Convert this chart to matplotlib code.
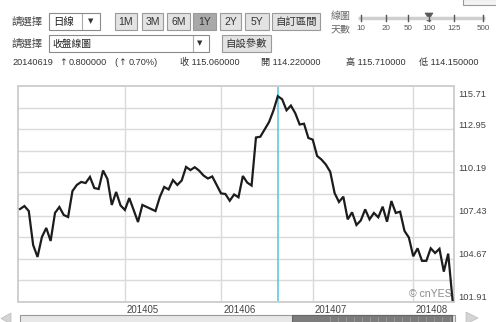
import matplotlib
matplotlib.use('Agg')
import matplotlib.pyplot as plt
import matplotlib.patches as mp
import numpy as np
import pandas as pd

# ---------------- data ----------------
dates = pd.bdate_range('2014-03-28', '2014-08-14')
close = [107.85, 108.04, 107.72, 105.55, 104.79, 106.06, 106.64, 105.81, 107.60, 107.98,
         107.47, 107.34, 109.00, 109.39, 109.58, 109.51, 109.90, 109.19, 109.13, 110.31,
         109.77, 108.11, 108.94, 108.08, 107.79, 108.55, 107.79, 107.02, 108.11, 107.98,
         107.85, 107.72, 108.62, 109.26, 109.10, 109.70, 109.39, 109.67, 110.54, 110.34,
         110.52, 110.30, 109.99, 109.80, 109.93, 109.39, 108.85, 108.81, 108.38, 108.78,
         108.60, 109.96, 109.54, 109.35, 112.42, 112.47, 112.94, 113.41, 114.14, 115.06,
         114.86, 114.16, 114.46, 113.97, 113.25, 113.30, 112.39, 112.28, 111.24, 111.01,
         110.69, 110.23, 108.87, 108.30, 108.64, 107.19, 107.64, 106.83, 107.12, 107.83,
         107.19, 107.60, 107.32, 108.00, 107.04, 108.36, 107.60, 107.68, 106.45, 106.03,
         104.83, 105.34, 104.54, 104.54, 105.34, 105.04, 105.31, 103.85, 105.00, 102.04]
ytick_labels = ['101.91', '104.67', '107.43', '110.19', '112.95', '115.71']
month_labels = ['201405', '201406', '201407', '201408']
selected_date = '2014-06-19'

header_date = '20140619'
header_change = '0.800000'
header_pct = '0.70%'
header_close = '115.060000'
header_open = '114.220000'
header_high = '115.710000'
header_low = '114.150000'

period_buttons = ['1M', '3M', '6M', '1Y', '2Y', '5Y', '自訂區間']
active_button = '1Y'
slider_labels = ['10', '20', '50', '100', '125', '500']
slider_active = '100'

# ---------------- figure ----------------
W, H = 496, 322
fig = plt.figure(figsize=(W / 100, H / 100), dpi=100)
fig.patch.set_facecolor('white')

NUMF = ['Liberation Sans', 'Noto Sans CJK TC', 'DejaVu Sans']
CJKF = ['Noto Sans CJK TC', 'DejaVu Sans']

ax = fig.add_axes([18.3 / W, 20 / H, 436 / W, 216 / H])
x = np.arange(len(dates))
y_min, y_max = float(ytick_labels[0]), float(ytick_labels[-1])
ax.set_xlim(-0.4, len(dates) - 0.6)
ax.set_ylim(y_min, y_max)

# horizontal grid
for v in np.linspace(y_min, y_max, 11)[1:-1]:
    ax.axhline(v, color='#dadada', lw=1.0, zorder=1)

# month grid + labels
for i in range(1, len(dates)):
    lab = dates[i].strftime('%Y%m')
    if dates[i].month != dates[i - 1].month and lab in month_labels:
        ax.axvline(x[i], color='#dadada', lw=1.0, zorder=1)
        ax.annotate(lab, xy=(x[i], y_min), xycoords='data', xytext=(1.5, -5.6),
                    textcoords='offset points', ha='left', va='center',
                    fontsize=6.9, color='#444444', family=NUMF, annotation_clip=False)

# selected date line
sel = list(dates.strftime('%Y-%m-%d')).index(selected_date)
ax.axvline(x[sel], color='#55c4dc', lw=1.1, zorder=2)

ax.plot(x, close, color='#1c1c1c', lw=1.6, zorder=3, solid_joinstyle='miter')

# y labels on the right
for i, lab in enumerate(ytick_labels):
    v = float(lab)
    dy = 2.9 if i < len(ytick_labels) - 1 else -6.3
    ax.annotate(lab, xy=(1, v), xycoords=('axes fraction', 'data'), xytext=(2.8, dy),
                textcoords='offset points', ha='left', va='center', fontsize=6.7,
                color='#444444', family=NUMF, annotation_clip=False)

ax.set_xticks([])
ax.set_yticks([])
for s in ax.spines.values():
    s.set_color('#cfcfcf')
    s.set_linewidth(1.4)

ax.text(0.995, 0.037, '© cnYES', transform=ax.transAxes, ha='right', va='center',
        fontsize=7.6, color='#8a8a8a', family=NUMF, zorder=4)

# ---------------- UI overlay (pixel coords) ----------------
ov = fig.add_axes([0, 0, 1, 1])
ov.set_xlim(0, W)
ov.set_ylim(H, 0)
ov.axis('off')
ov.patch.set_alpha(0)

def txt(xp, yp, s, size=7.5, ha='left', color='#444444', fam=CJKF):
    ov.text(xp, yp, s, fontsize=size, ha=ha, va='center', color=color, family=fam)

# row 1
txt(12, 21.5, '請選擇')
ov.add_patch(mp.Rectangle((49, 13), 51, 17, fc='white', ec='#8a8a8a', lw=0.8))
txt(53, 21.5, '日線', color='#222222')
ov.plot([82, 82], [14, 29], color='#aaaaaa', lw=0.8)
txt(91, 21.5, '▼', size=5, ha='center', color='#333333', fam=['DejaVu Sans'])

btn_x = [(115, 137), (142, 163), (167, 190), (193, 216), (220, 241), (245, 269), (272, 320)]
for lab, (x0, x1) in zip(period_buttons, btn_x):
    fc = '#a9a9a9' if lab == active_button else '#e3e3e3'
    ov.add_patch(mp.Rectangle((x0, 13), x1 - x0, 17, fc=fc, ec='#9a9a9a', lw=0.8))
    txt((x0 + x1) / 2, 21.5, lab, size=7.5, ha='center', color='#333333',
        fam=NUMF if lab != '自訂區間' else CJKF)

txt(331, 15.5, '線圖', size=7.2, color='#666666')
txt(331, 29.5, '天數', size=7.2, color='#666666')
ov.plot([358, 485], [18, 18], color='#cfcfcf', lw=2.5, solid_capstyle='butt')
slider_x = [361, 386, 408, 429, 454, 483]
for lab, sx in zip(slider_labels, slider_x):
    ov.plot([sx, sx], [15, 21], color='#555555', lw=1)
    txt(sx, 28.5, lab, size=5.8, ha='center', color='#555555', fam=NUMF)
    if lab == slider_active:
        ov.add_patch(mp.Polygon([(425, 13), (433, 13), (431, 16), (431, 21), (427, 21), (427, 16)],
                                closed=True, fc='#5a5a5a', ec='#5a5a5a', lw=0.5))
ov.add_patch(mp.Rectangle((463, -1), 34, 6, fc='#f3f3f3', ec='#9a9a9a', lw=0.8))

# row 2
txt(12, 44, '請選擇')
ov.add_patch(mp.Rectangle((49, 35), 160, 17, fc='white', ec='#8a8a8a', lw=0.8))
txt(52, 43.5, '收盤線圖', size=7, color='#222222')
ov.plot([193, 193], [36, 51], color='#aaaaaa', lw=0.8)
txt(200, 43.5, '▼', size=5, ha='center', color='#333333', fam=['DejaVu Sans'])
ov.add_patch(mp.Rectangle((222, 35), 49, 17, fc='#e3e3e3', ec='#9a9a9a', lw=0.8))
txt(246.5, 43.5, '自設參數', size=7.5, ha='center', color='#333333')

# row 3
rowy = 62
txt(12, rowy, header_date, size=6.6, color='#333333', fam=NUMF)
txt(59.5, rowy, '↑', size=6.6, color='#333333', fam=['DejaVu Sans'])
txt(69, rowy, header_change, size=6.6, color='#333333', fam=NUMF)
txt(114, rowy, '(', size=6.6, color='#333333', fam=NUMF)
txt(118, rowy, '↑', size=6.6, color='#333333', fam=['DejaVu Sans'])
txt(129, rowy, header_pct + ')', size=6.6, color='#333333', fam=NUMF)
txt(180, rowy, f'收 {header_close}', size=6.6, color='#333333', fam=NUMF)
txt(261, rowy, f'開 {header_open}', size=6.6, color='#333333', fam=NUMF)
txt(346, rowy, f'高 {header_high}', size=6.6, color='#333333', fam=NUMF)
txt(419, rowy, f'低 {header_low}', size=6.6, color='#333333', fam=NUMF)

# bottom scrollbar
ov.add_patch(mp.Polygon([(1, 318.5), (11, 313), (11, 324)], closed=True, fc='#d4d4d4', ec='#bbbbbb', lw=0.5))
ov.add_patch(mp.Rectangle((20, 315), 435, 9, fc='#e8e8e8', ec='#9a9a9a', lw=0.8))
ov.add_patch(mp.Rectangle((292, 315), 160, 9, fc='#7c7c7c', ec='#666666', lw=0.8))
for gx in np.arange(330, 452, 8):
    ov.plot([gx, gx], [317, 324], color='#9c9c9c', lw=0.6)
ov.add_patch(mp.Polygon([(466, 312), (478, 318), (466, 324)], closed=True, fc='#d4d4d4', ec='#bbbbbb', lw=0.5))

fig.savefig('out.png', dpi=100, facecolor='white')
